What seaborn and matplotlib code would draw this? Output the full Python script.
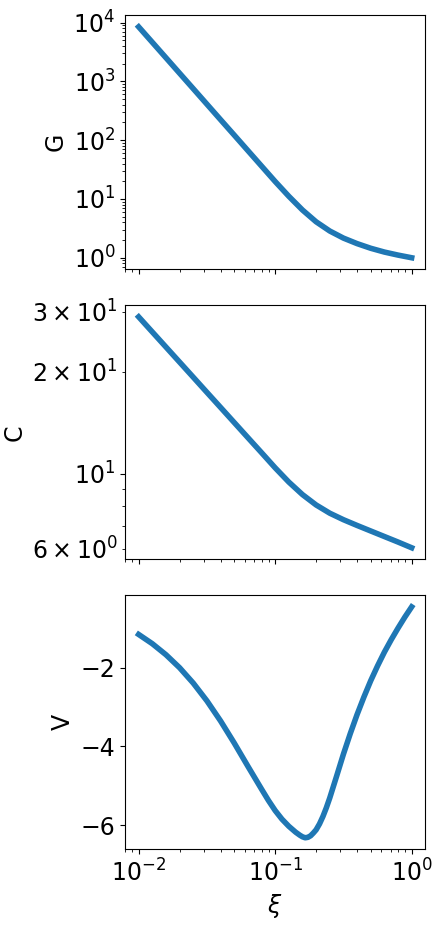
import matplotlib
matplotlib.use("Agg")
import matplotlib.pyplot as plt
import seaborn as sns
import pandas as pd

# shared abscissa for G and C (read every 0.1 decade)
xi_gc = [0.01, 0.01259, 0.01585, 0.01995, 0.02512, 0.03162, 0.03981, 0.05012, 0.0631, 0.07943,
         0.1, 0.1259, 0.1585, 0.1995, 0.2512, 0.3162, 0.3981, 0.5012, 0.631, 0.7943, 1.0]

G = [8450, 4613, 2518, 1374, 750, 409, 223, 122, 66.5, 36.3,
     19.8, 11.1, 6.49, 4.09, 2.85, 2.16, 1.74, 1.45, 1.25, 1.11, 1.0]

C = [29.01, 26.18, 23.63, 21.33, 19.25, 17.37, 15.68, 14.15, 12.77, 11.53,
     10.40, 9.44, 8.67, 8.08, 7.64, 7.31, 7.03, 6.77, 6.52, 6.28, 6.04]

# abscissa for V (denser around the minimum)
xi_v = [0.01, 0.01259, 0.01585, 0.01995, 0.02512, 0.03162, 0.03981, 0.05012, 0.0631, 0.07943,
        0.08913, 0.1, 0.1122, 0.1259, 0.1413, 0.1514, 0.1585, 0.166, 0.1738, 0.182,
        0.1905, 0.1995, 0.2113, 0.2239, 0.2371, 0.2512, 0.2818, 0.3162, 0.3548, 0.3981,
        0.4467, 0.5012, 0.5623, 0.631, 0.7079, 0.7943, 0.8913, 1.0]

V = [-1.16, -1.395, -1.675, -2.005, -2.395, -2.845, -3.355, -3.915, -4.505, -5.085,
     -5.37, -5.63, -5.85, -6.03, -6.18, -6.255, -6.297, -6.322, -6.31, -6.27,
     -6.20, -6.12, -5.97, -5.78, -5.56, -5.31, -4.76, -4.20, -3.68, -3.195,
     -2.75, -2.335, -1.96, -1.61, -1.295, -1.0, -0.72, -0.46]

ylabels = ["G", "C", "V"]
xlabel = r"$\xi$"

df_gc = pd.DataFrame({"xi": xi_gc, "G": G, "C": C})
df_v = pd.DataFrame({"xi": xi_v, "V": V})

plt.rcParams["font.family"] = ["DejaVu Sans"]
fig, axes = plt.subplots(3, 1, figsize=(4.47, 9.32), dpi=100, sharex=True)
fig.subplots_adjust(left=0.2796, right=0.9515, top=0.9836, bottom=0.0887, hspace=0.1417)

color = "#1f77b4"
for ax, col in zip(axes, ylabels):
    ax.set_xscale("log")
    if col != "V":
        ax.set_yscale("log")
        data = df_gc
    else:
        data = df_v
    sns.lineplot(data=data, x="xi", y=col, ax=ax, color=color, linewidth=4)
    ax.set_ylabel(col, fontsize=17)
    ax.set_xlabel("")
    ax.tick_params(axis="both", which="both", labelsize=17)

axes[2].set_xlabel(xlabel, fontsize=17)

fig.savefig("out.png", dpi=100)
